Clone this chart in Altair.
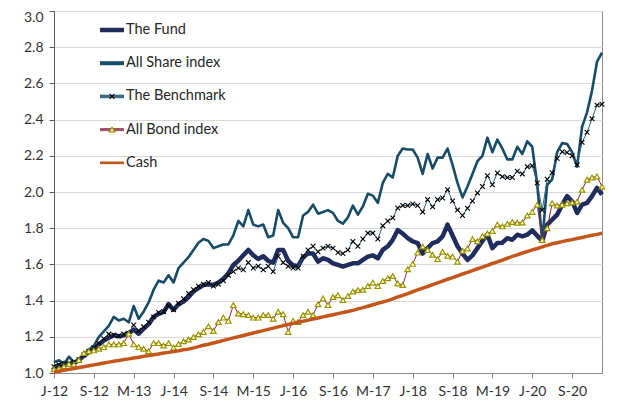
import altair as alt
import pandas as pd

tick_labels = ["J-12", "S-12", "M-13", "J-14", "S-14", "M-15", "J-16", "S-16",
               "M-17", "J-18", "S-18", "M-19", "J-20", "S-20"]
series_names = ["The Fund", "All Share index", "The Benchmark", "All Bond index", "Cash"]

fund = [1.030, 1.042, 1.055, 1.050, 1.055, 1.072, 1.096, 1.115, 1.134, 1.158,
        1.180, 1.195, 1.208, 1.203, 1.208, 1.220, 1.240, 1.217, 1.245, 1.270,
        1.310, 1.327, 1.337, 1.380, 1.350, 1.380, 1.395, 1.420, 1.450, 1.470,
        1.486, 1.490, 1.486, 1.500, 1.520, 1.550, 1.597, 1.620, 1.650, 1.680,
        1.650, 1.630, 1.645, 1.620, 1.610, 1.680, 1.680, 1.620, 1.595, 1.590,
        1.640, 1.660, 1.660, 1.615, 1.634, 1.625, 1.606, 1.597, 1.588, 1.597,
        1.606, 1.606, 1.625, 1.643, 1.650, 1.634, 1.680, 1.700, 1.736, 1.790,
        1.770, 1.745, 1.727, 1.718, 1.660, 1.690, 1.718, 1.727, 1.755, 1.820,
        1.760, 1.700, 1.660, 1.625, 1.650, 1.690, 1.730, 1.764, 1.690, 1.718,
        1.720, 1.745, 1.736, 1.764, 1.755, 1.764, 1.788, 1.758, 1.730, 1.820,
        1.847, 1.875, 1.930, 1.977, 1.949, 1.884, 1.930, 1.940, 1.977, 2.023,
        1.986]

share = [1.06, 1.07, 1.05, 1.09, 1.06, 1.07, 1.10, 1.13, 1.15, 1.20,
         1.23, 1.26, 1.31, 1.29, 1.30, 1.28, 1.37, 1.30, 1.34, 1.39,
         1.46, 1.51, 1.50, 1.54, 1.50, 1.58, 1.61, 1.64, 1.68, 1.72,
         1.74, 1.73, 1.69, 1.70, 1.71, 1.71, 1.76, 1.84, 1.81, 1.90,
         1.82, 1.81, 1.82, 1.75, 1.76, 1.90, 1.83, 1.80, 1.75, 1.75,
         1.87, 1.89, 1.93, 1.88, 1.89, 1.90, 1.885, 1.84, 1.825, 1.86,
         1.925, 1.875, 1.92, 1.99, 1.98, 1.94, 2.05, 2.10, 2.08, 2.20,
         2.24, 2.235, 2.235, 2.19, 2.10, 2.21, 2.13, 2.19, 2.19, 2.24,
         2.15, 2.05, 1.97, 2.03, 2.10, 2.17, 2.20, 2.30, 2.22, 2.29,
         2.24, 2.18, 2.18, 2.25, 2.21, 2.28, 2.25, 2.04, 1.73, 2.04,
         2.07, 2.22, 2.27, 2.265, 2.22, 2.14, 2.36, 2.44, 2.56, 2.72,
         2.77]

bench = [1.035, 1.045, 1.050, 1.050, 1.060, 1.075, 1.100, 1.120, 1.140, 1.165,
         1.190, 1.215, 1.210, 1.205, 1.215, 1.220, 1.265, 1.235, 1.255, 1.280,
         1.310, 1.335, 1.340, 1.370, 1.350, 1.385, 1.410, 1.440, 1.460, 1.480,
         1.490, 1.500, 1.480, 1.490, 1.510, 1.540, 1.560, 1.580, 1.570, 1.610,
         1.580, 1.590, 1.570, 1.590, 1.560, 1.645, 1.610, 1.590, 1.580, 1.580,
         1.645, 1.680, 1.700, 1.670, 1.690, 1.700, 1.690, 1.666, 1.660, 1.680,
         1.727, 1.700, 1.740, 1.773, 1.773, 1.740, 1.814, 1.840, 1.857, 1.912,
         1.925, 1.925, 1.934, 1.925, 1.890, 1.958, 1.918, 1.958, 1.967, 2.013,
         1.950, 1.900, 1.870, 1.910, 1.950, 1.995, 2.030, 2.090, 2.040, 2.105,
         2.085, 2.080, 2.080, 2.115, 2.100, 2.140, 2.145, 2.050, 1.900, 2.070,
         2.107, 2.185, 2.222, 2.218, 2.200, 2.150, 2.275, 2.330, 2.405, 2.480,
         2.485]

bond = [1.020, 1.025, 1.036, 1.050, 1.047, 1.072, 1.110, 1.120, 1.125, 1.134,
        1.143, 1.158, 1.158, 1.158, 1.165, 1.217, 1.158, 1.143, 1.134, 1.120,
        1.165, 1.165, 1.152, 1.165, 1.140, 1.160, 1.175, 1.185, 1.199, 1.214,
        1.227, 1.258, 1.232, 1.282, 1.306, 1.288, 1.375, 1.329, 1.325, 1.320,
        1.306, 1.306, 1.320, 1.320, 1.300, 1.338, 1.325, 1.227, 1.288, 1.282,
        1.320, 1.338, 1.320, 1.380, 1.412, 1.375, 1.420, 1.430, 1.403, 1.425,
        1.450, 1.458, 1.460, 1.480, 1.499, 1.480, 1.508, 1.523, 1.536, 1.495,
        1.486, 1.573, 1.603, 1.665, 1.699, 1.680, 1.653, 1.629, 1.670, 1.647,
        1.643, 1.615, 1.675, 1.688, 1.740, 1.728, 1.756, 1.770, 1.785, 1.820,
        1.810, 1.824, 1.834, 1.830, 1.831, 1.870, 1.890, 1.930, 1.735, 1.800,
        1.938, 1.925, 1.930, 1.938, 1.942, 1.947, 2.012, 2.068, 2.080, 2.086,
        2.030]

cash = [1.005, 1.010, 1.015, 1.020, 1.025, 1.030, 1.035, 1.040, 1.045, 1.050,
        1.055, 1.060, 1.065, 1.069, 1.074, 1.078, 1.083, 1.087, 1.092, 1.096,
        1.101, 1.105, 1.110, 1.114, 1.119, 1.123, 1.128, 1.132, 1.139, 1.146,
        1.153, 1.159, 1.166, 1.173, 1.180, 1.187, 1.194, 1.200, 1.207, 1.214,
        1.221, 1.228, 1.234, 1.241, 1.248, 1.255, 1.262, 1.268, 1.274, 1.280,
        1.286, 1.292, 1.298, 1.304, 1.310, 1.316, 1.322, 1.328, 1.334, 1.340,
        1.346, 1.354, 1.361, 1.369, 1.377, 1.385, 1.392, 1.400, 1.410, 1.420,
        1.429, 1.439, 1.449, 1.459, 1.469, 1.478, 1.488, 1.498, 1.508, 1.518,
        1.527, 1.537, 1.547, 1.556, 1.566, 1.576, 1.585, 1.595, 1.605, 1.614,
        1.624, 1.634, 1.644, 1.653, 1.663, 1.671, 1.680, 1.688, 1.697, 1.705,
        1.714, 1.720, 1.726, 1.732, 1.737, 1.743, 1.749, 1.755, 1.761, 1.766,
        1.772]

months = list(range(len(fund)))

# styles
FONT = "Lato"
C_FUND = "#1F2C5C"
C_SHARE = "#184B66"
C_BENCH = "#2B5F7E"
C_BOND = "#8E1F4F"
C_CASH = "#C4561C"
XSHAPE = "M-1,-1L1,1M-1,1L1,-1"
TRI_FILL = "#FFFFC8"
TRI_STROKE = "#9A9400"

rows = []
for name, vals in zip(series_names, [fund, share, bench, bond, cash]):
    for m, v in zip(months, vals):
        rows.append({"series": name, "m": m, "v": v})
df = pd.DataFrame(rows)

label_js = "[" + ",".join("'%s'" % t for t in tick_labels) + "]"
X = alt.X("m:Q", scale=alt.Scale(domain=[0, 110], nice=False, zero=False),
          axis=alt.Axis(values=[8 * k for k in range(len(tick_labels))],
                        labelExpr=label_js + "[round(datum.value/8)]",
                        labelOverlap=False, labelFlush=False,
                        title=None, grid=False, tickSize=5, labelPadding=6,
                        domainColor="#8C8C8C", tickColor="#8C8C8C"))
Y = alt.Y("v:Q", scale=alt.Scale(domain=[1, 3], nice=False, zero=False),
          axis=alt.Axis(values=[1.0, 1.2, 1.4, 1.6, 1.8, 2.0, 2.2, 2.4, 2.6, 2.8, 3.0],
                        format=".1f", title=None, grid=True, gridColor="#D9D9D9",
                        gridWidth=1.2, tickSize=5, labelPadding=6, labelOverlap=False,
                        labelFlush=False,
                        labelOffset={"condition": {"test": "datum.value >= 2.99", "value": 6}, "value": 0},
                        domainColor="#595959", tickColor="#595959"))

base = alt.Chart(df)


def sel(name):
    return base.transform_filter(alt.datum.series == name)


fund_line = sel("The Fund").mark_line(color=C_FUND, strokeWidth=4.5, strokeJoin="round").encode(x=X, y=Y)
share_line = sel("All Share index").mark_line(color=C_SHARE, strokeWidth=2.6, strokeJoin="round").encode(x=X, y=Y)
bench_line = sel("The Benchmark").mark_line(color=C_BENCH, strokeWidth=1).encode(x=X, y=Y)
bench_pts = sel("The Benchmark").mark_point(shape=XSHAPE, size=22, color="black", strokeWidth=1.1,
                                            filled=False, opacity=1).encode(x=X, y=Y)
bond_line = sel("All Bond index").mark_line(color=C_BOND, strokeWidth=1).encode(x=X, y=Y)
bond_pts = sel("All Bond index").mark_point(shape="triangle-up", size=30, fill=TRI_FILL, fillOpacity=1,
                                            stroke=TRI_STROKE, strokeWidth=1.2, opacity=1).encode(x=X, y=Y)
cash_line = sel("Cash").mark_line(color=C_CASH, strokeWidth=3.5, strokeJoin="round").encode(x=X, y=Y)

# legend (drawn inside the plot, top-left)
leg_df = pd.DataFrame({"name": series_names, "k": list(range(len(series_names)))})
leg = alt.Chart(leg_df).transform_calculate(ly="19 + 33.2*datum.k")
LY = alt.Y("ly:Q", scale=None, axis=None)
leg_lines = leg.mark_rule().encode(
    x=alt.value(46), x2=alt.value(70), y=LY,
    color=alt.Color("name:N", scale=alt.Scale(domain=series_names,
                                              range=[C_FUND, C_SHARE, "#3D6B88", "#A0506A", C_CASH]),
                    legend=None),
    strokeWidth=alt.StrokeWidth("name:N", scale=alt.Scale(domain=series_names, range=[4.5, 2.6, 1.2, 1.2, 3.5]),
                                legend=None))
leg_x = leg.transform_filter(alt.datum.name == "The Benchmark").mark_point(
    shape=XSHAPE, size=22, color="black", strokeWidth=1.1, filled=False, opacity=1
).encode(x=alt.value(58), y=LY)
leg_tri = leg.transform_filter(alt.datum.name == "All Bond index").mark_point(
    shape="triangle-up", size=30, fill=TRI_FILL, fillOpacity=1, stroke=TRI_STROKE, strokeWidth=1.2, opacity=1
).encode(x=alt.value(58), y=LY)
leg_text = leg.mark_text(align="left", baseline="middle", font=FONT, fontSize=14.5, color="#262626").encode(
    x=alt.value(72), y=LY, text="name:N")

chart = alt.layer(
    fund_line, share_line, bench_line, bench_pts, bond_line, bond_pts, cash_line,
    leg_lines, leg_x, leg_tri, leg_text
).properties(
    width=548, height=362,
    padding={"left": 46, "top": 3, "right": 17, "bottom": 32},
    autosize=alt.AutoSizeParams(type="none"),
).configure_view(
    stroke="#8C8C8C", strokeWidth=1
).configure_axis(
    labelFont=FONT, labelFontSize=14, labelColor="#333333"
)

chart.save("out.html", embed_options={"renderer": "svg", "actions": False})
